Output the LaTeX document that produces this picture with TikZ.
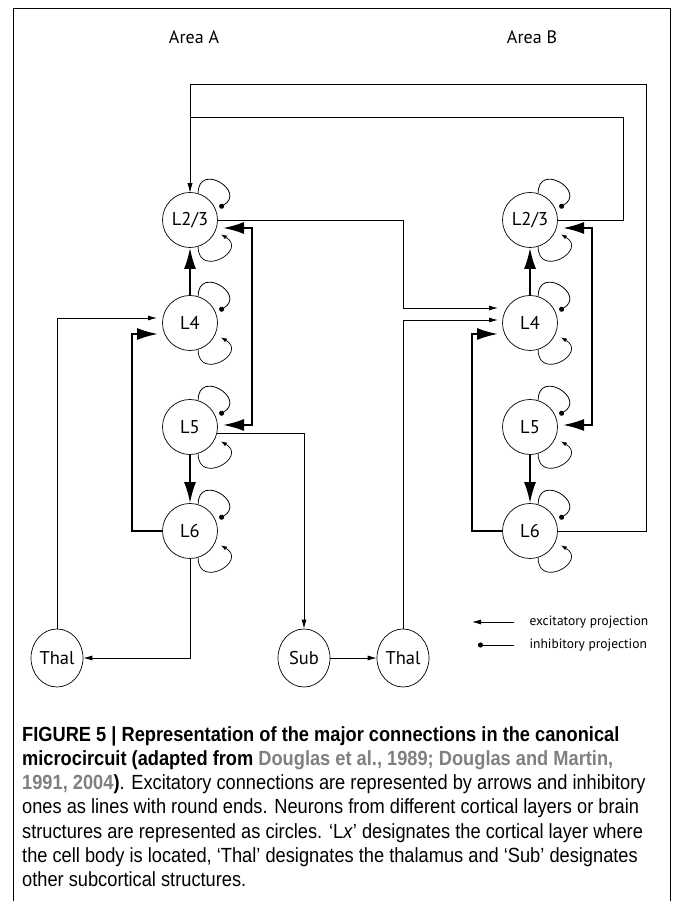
\documentclass[tikz,border=0pt]{standalone}
\usepackage{fontspec}
\setmainfont{PT Sans}
\newfontfamily\capfont{Liberation Sans}[FakeStretch=0.89]
\usetikzlibrary{arrows.meta, calc, positioning, shapes.geometric}
\definecolor{citegray}{RGB}{128,128,128}

\tikzset{
  layer/.style={draw, circle, minimum size=55pt, inner sep=0pt, line width=0.7pt, font=\fontsize{18.5}{18.5}\selectfont},
  relay/.style={draw, ellipse, minimum width=52pt, minimum height=58pt, inner sep=0pt, line width=0.7pt, font=\fontsize{18.5}{18.5}\selectfont},
  exc/.style={-{Latex[length=9pt,width=5pt]}, line width=0.8pt},
  inh/.style={-{Circle[length=5pt]}, line width=0.8pt},
  selfexc/.style={-{Latex[length=6pt,width=4pt]}, line width=0.7pt},
  drive/.style={-{Latex[length=21pt,width=12pt]}, line width=2pt},
  drivetwo/.style={{Latex[length=21pt,width=12pt]}-{Latex[length=21pt,width=12pt]}, line width=2pt},
}

\begin{document}
\begin{tikzpicture}[x=1pt,y=1pt]
\useasboundingbox (0,0) rectangle (673,901);
\draw[line width=0.8pt] (13,0) -- (13,893) -- (670,893) -- (670,0);

\node[font=\fontsize{18}{18}\selectfont] (areaA) at (194,864) {Area A};
\node[font=\fontsize{18}{18}\selectfont] (areaB) at (532,864) {Area B};

\node[layer] (L23A) at (190,681) {L2/3};
\node[layer] (L4A) at (190,578) {L4};
\node[layer] (L5A) at (190,474) {L5};
\node[layer] (L6A) at (190,370) {L6};

\node[layer] (L23B) at (530,681) {L2/3};
\node[layer] (L4B) at (530,578) {L4};
\node[layer] (L5B) at (530,474) {L5};
\node[layer] (L6B) at (530,370) {L6};

\node[relay] (ThalA) at (57,243) {Thal};
\node[relay] (Sub) at (304,243) {Sub};
\node[relay] (ThalB) at (403,243) {Thal};

% self connections
\foreach \n in {L23A,L4A,L5A,L6A,L23B,L4B,L5B,L6B}{
  \draw[inh] (\n.73) .. controls +(90:32) and +(30:32) .. ($(\n.center)+(23:32)$);
  \draw[selfexc] (\n.-73) .. controls +(-90:32) and +(-30:32) .. ($(\n.center)+(-25:34)$);
}

% inside each area
\foreach \col in {A,B}{
  \draw[drive] (L4\col) -- (L23\col);
  \draw[drive] (L5\col) -- (L6\col);
  \draw[drivetwo] ($(L23\col.center)+(33,-8)$) -- ++(29,0) |- ($(L5\col.center)+(33,2)$);
  \draw[drive] (L6\col.west) -- ++(-30,0) |- ($(L4\col.center)+(-32,-11)$);
}

% feedback from area B
\draw[exc] (L6B.east) -- (646,370) -- (646,817) -- (190,817) -- (L23A.north);
\draw[exc] (L23B.east) -- (623,681) -- (623,784) -- (190,784) -- (L23A.north);

% feedforward to area B
\draw[exc] (L23A.east) -- (403,681) -- (403,593) -- ($(L4B.center)+(-32,15)$);
\draw[exc] (ThalB.north) -- (403,581) -- ($(L4B.center)+(-32,3)$);

% thalamus and subcortical
\draw[exc] (ThalA.north) -- (57,583) -- ($(L4A.center)+(-33,5)$);
\draw[exc] (L6A.south) -- (190,243) -- (ThalA.east);
\draw[exc] ($(L5A.center)+(27,-6)$) -- (304,468) -- (Sub.north);
\draw[exc] (Sub.east) -- (ThalB.west);

% legend
\node[anchor=west, font=\fontsize{13.5}{13.5}\selectfont] (excl) at (526,279) {excitatory projection};
\node[anchor=west, font=\fontsize{13.5}{13.5}\selectfont] (inhl) at (526,256) {inhibitory projection};
\draw[exc] ($(excl.west)+(-12,0)$) -- ++(-42,0);
\draw[inh] ($(inhl.west)+(-12,0)$) -- ++(-36,0);

\node[anchor=north west, align=left, inner sep=0pt, font=\capfont\fontsize{20.5}{24.3}\selectfont] (caption) at (22,175)
{\textbf{FIGURE 5 | Representation of the major connections in the canonical}\\
\textbf{microcircuit (adapted from \textcolor{citegray}{Douglas et al., 1989; Douglas and Martin,}}\\
\textbf{\textcolor{citegray}{1991, 2004})}. Excitatory connections are represented by arrows and inhibitory\\
ones as lines with round ends. Neurons from different cortical layers or brain\\
structures are represented as circles. ‘L\textit{x}’ designates the cortical layer where\\
the cell body is located, ‘Thal’ designates the thalamus and ‘Sub’ designates\\
other subcortical structures.};

\end{tikzpicture}
\end{document}
